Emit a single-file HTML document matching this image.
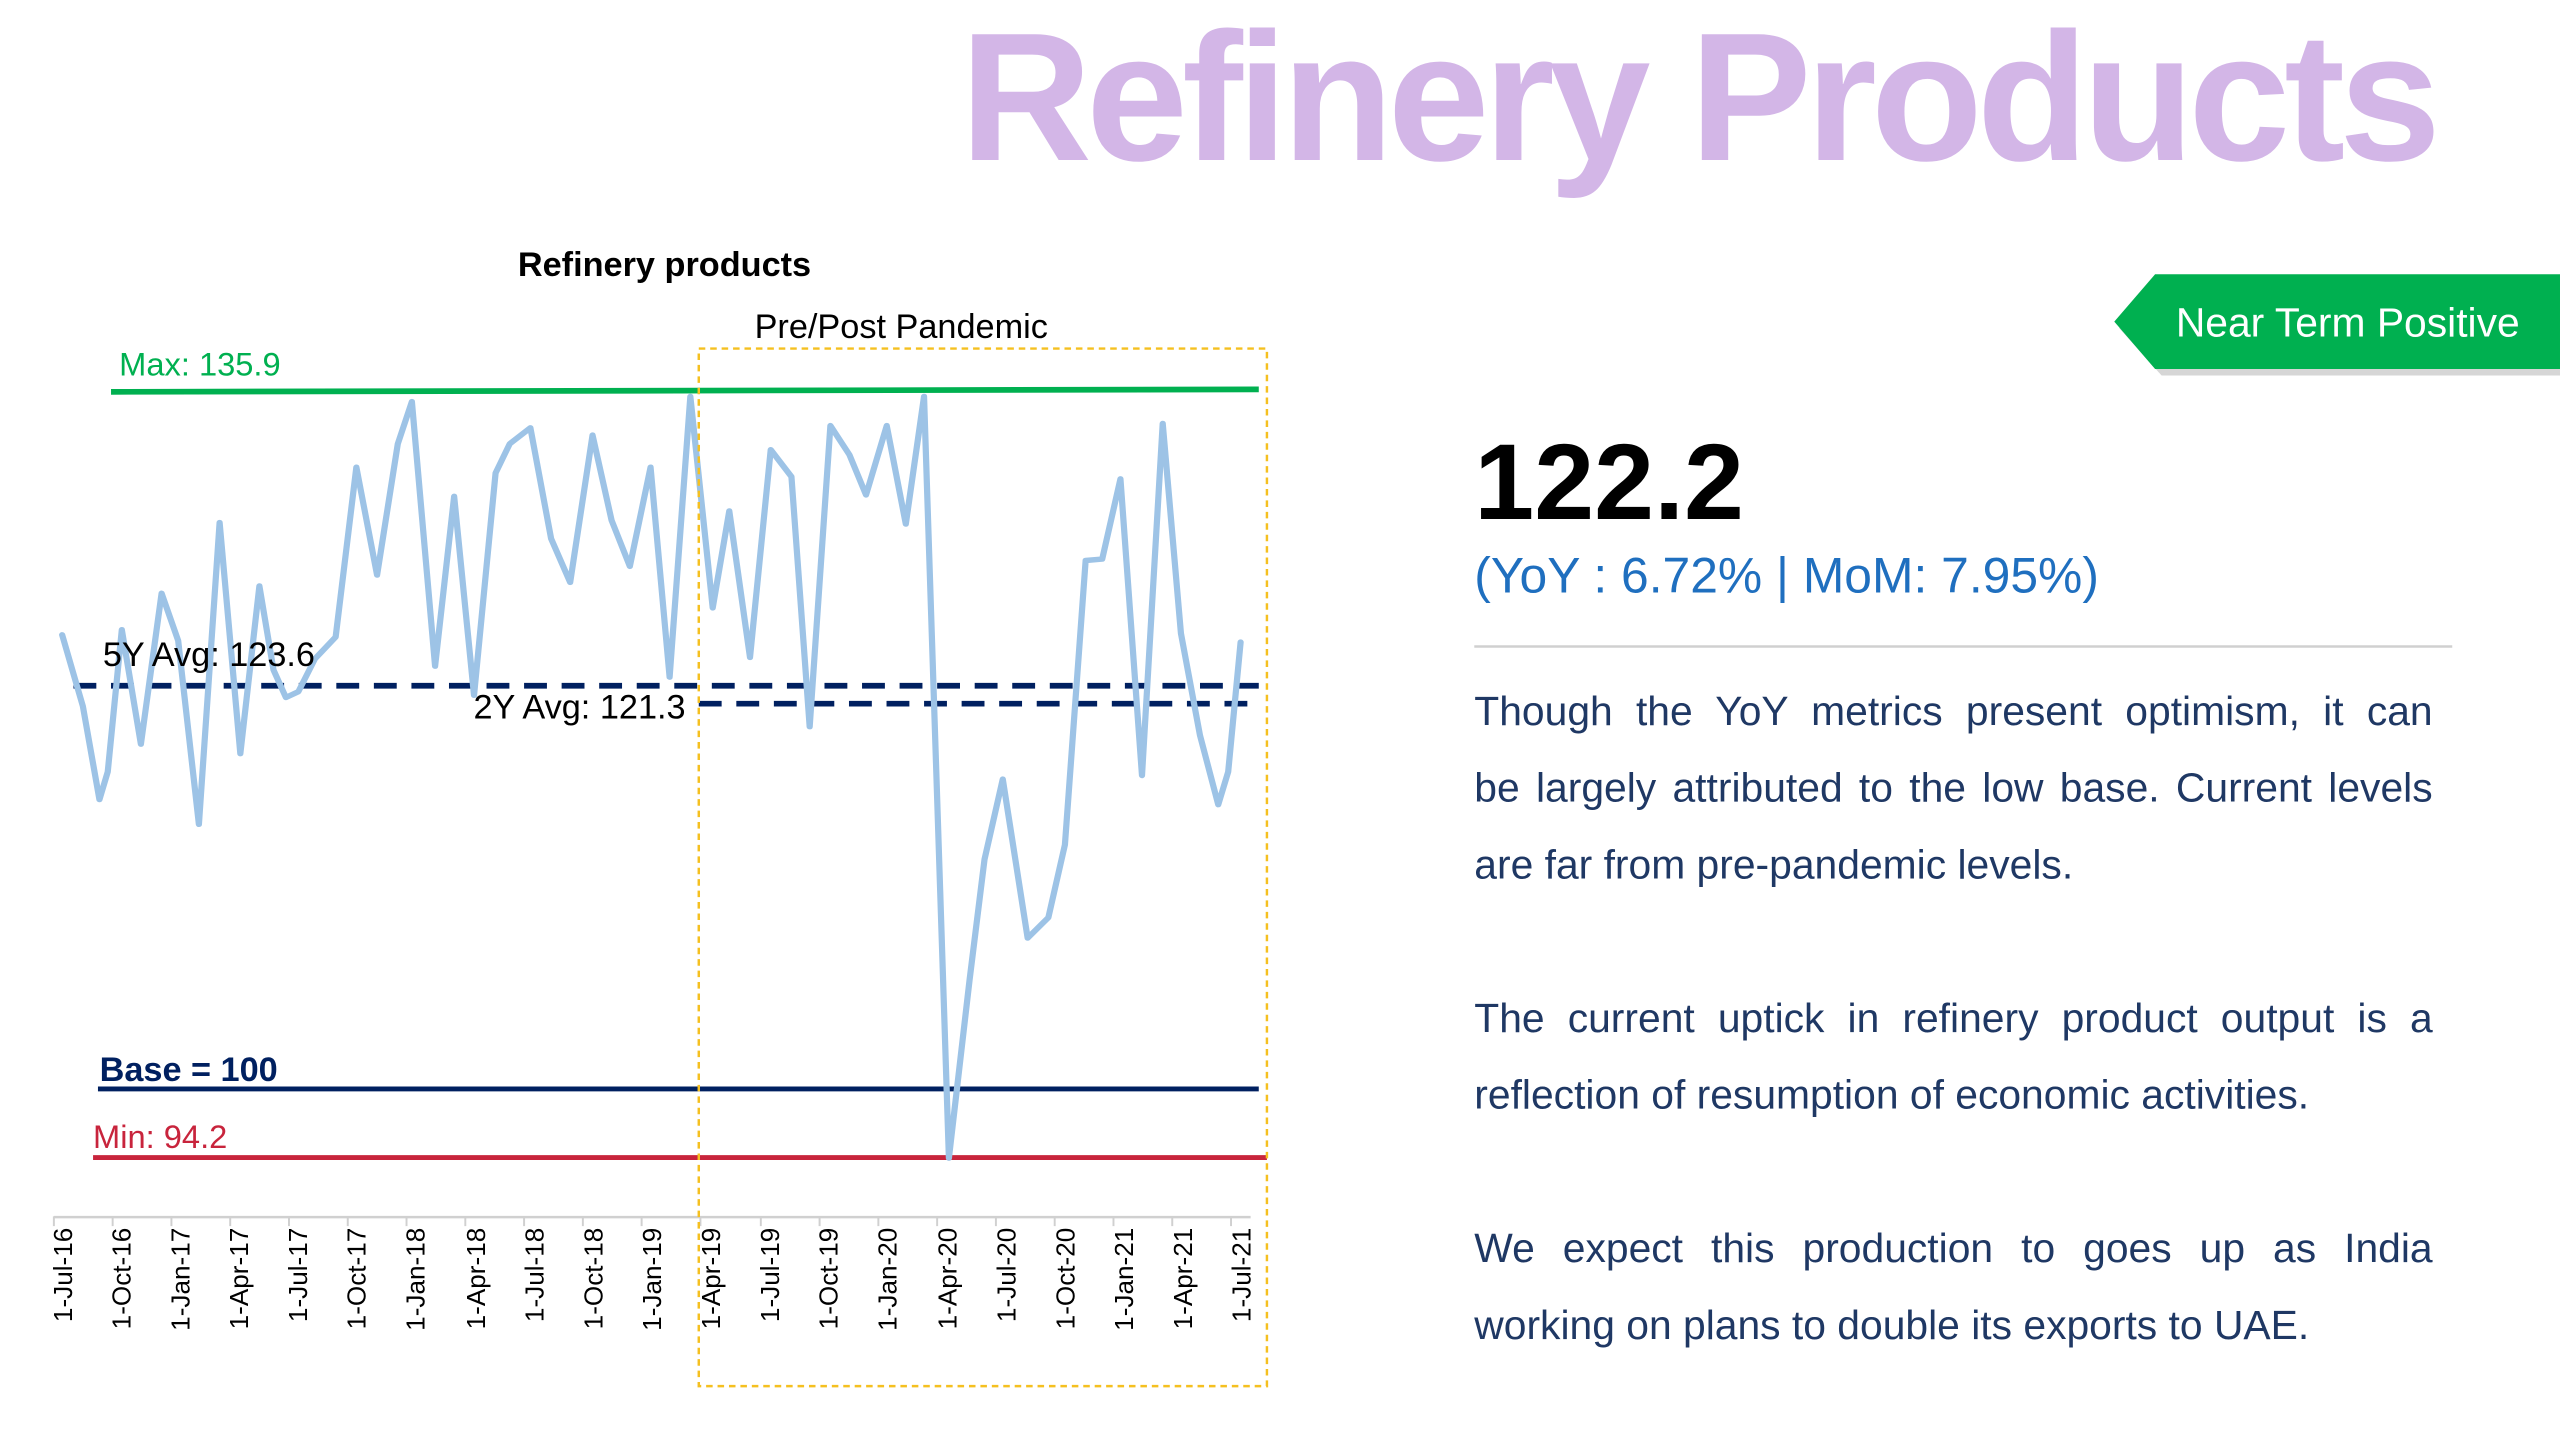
<!DOCTYPE html>
<html><head><meta charset="utf-8"><style>
html,body{margin:0;padding:0;background:#fff;overflow:hidden}
body{width:2560px;height:1440px}
#w{position:absolute;left:0;top:0;width:1568px;height:882px;transform:scale(1.63265);transform-origin:0 0;font-family:"Liberation Sans",sans-serif}
.a{position:absolute;white-space:nowrap}
.p{position:absolute;left:903px;width:587px;font-size:25px;color:#1f3864;line-height:47px}
.p div{text-align:justify;text-align-last:justify;white-space:nowrap}
.p div.l{text-align-last:left}
</style></head><body><div id="w">
<div class="a" style="left:588px;top:0px;font-size:112px;font-weight:bold;color:#d3b6e7;letter-spacing:-3.6px;line-height:120px">Refinery Products</div>
<svg style="position:absolute;left:0;top:0" width="1568" height="882" viewBox="0 0 1568 882">
<text x="407" y="169" font-size="21" font-weight="bold" text-anchor="middle" font-family="Liberation Sans">Refinery products</text>
<text x="552" y="207" font-size="21" text-anchor="middle" font-family="Liberation Sans">Pre/Post Pandemic</text>
<line x1="68" y1="240" x2="771" y2="238.5" stroke="#00b050" stroke-width="3.5"/>
<text x="73" y="230" font-size="20" fill="#00b050" font-family="Liberation Sans">Max: 135.9</text>
<line x1="45" y1="420" x2="771" y2="420" stroke="#002060" stroke-width="3.5" stroke-dasharray="14,9"/>
<line x1="428" y1="431" x2="771" y2="431" stroke="#002060" stroke-width="3.5" stroke-dasharray="14,9"/>
<line x1="60" y1="667" x2="771" y2="667" stroke="#002060" stroke-width="3"/>
<line x1="57" y1="709" x2="776" y2="709" stroke="#c8243c" stroke-width="3"/>
<g transform="translate(0,182.6) scale(0.5076,0.4464)">
<polyline fill="none" stroke="#9dc3e6" stroke-width="7.5" stroke-linejoin="round" stroke-linecap="round" points="75,462 100,560 120,688 130,650 147,455 170,612 195,405 215,470 240,722 265,308 290,625 313,395 330,510 345,548 360,540 380,495 405,465 430,232 455,380 480,200 497,142 525,505 548,272 572,545 598,240 615,200 640,178 665,330 688,390 715,188 738,305 760,368 785,232 808,520 833,135 860,425 880,292 905,493 930,208 955,245 977,588 1002,175 1025,215 1045,270 1070,175 1093,310 1115,135 1145,1180 1170,935 1188,770 1210,660 1240,878 1265,850 1285,750 1310,360 1330,358 1352,248 1378,655 1403,172 1425,460 1448,600 1470,695 1482,650 1497,472"/>
</g>
<text x="63" y="408" font-size="21" font-family="Liberation Sans">5Y Avg: 123.6</text>
<text x="290" y="440" font-size="21" font-family="Liberation Sans">2Y Avg: 121.3</text>
<text x="61" y="662" font-size="21" font-weight="bold" fill="#002060" font-family="Liberation Sans">Base = 100</text>
<text x="57" y="703" font-size="20" fill="#c8243c" font-family="Liberation Sans">Min: 94.2</text>
<line x1="33" y1="745.5" x2="766" y2="745.5" stroke="#d0d0d0" stroke-width="1.5"/>
<g font-size="16" font-family="Liberation Sans" text-anchor="end">
<text transform="translate(44,752) rotate(-90)">1-Jul-16</text>
<text transform="translate(80,752) rotate(-90)">1-Oct-16</text>
<text transform="translate(116,752) rotate(-90)">1-Jan-17</text>
<text transform="translate(152,752) rotate(-90)">1-Apr-17</text>
<text transform="translate(188,752) rotate(-90)">1-Jul-17</text>
<text transform="translate(224,752) rotate(-90)">1-Oct-17</text>
<text transform="translate(260,752) rotate(-90)">1-Jan-18</text>
<text transform="translate(297,752) rotate(-90)">1-Apr-18</text>
<text transform="translate(333,752) rotate(-90)">1-Jul-18</text>
<text transform="translate(369,752) rotate(-90)">1-Oct-18</text>
<text transform="translate(405,752) rotate(-90)">1-Jan-19</text>
<text transform="translate(441,752) rotate(-90)">1-Apr-19</text>
<text transform="translate(477,752) rotate(-90)">1-Jul-19</text>
<text transform="translate(513,752) rotate(-90)">1-Oct-19</text>
<text transform="translate(549,752) rotate(-90)">1-Jan-20</text>
<text transform="translate(586,752) rotate(-90)">1-Apr-20</text>
<text transform="translate(622,752) rotate(-90)">1-Jul-20</text>
<text transform="translate(658,752) rotate(-90)">1-Oct-20</text>
<text transform="translate(694,752) rotate(-90)">1-Jan-21</text>
<text transform="translate(730,752) rotate(-90)">1-Apr-21</text>
<text transform="translate(766,752) rotate(-90)">1-Jul-21</text>
</g>
<g stroke="#d0d0d0" stroke-width="1.2">
<line x1="33" y1="745" x2="33" y2="751"/><line x1="69" y1="745" x2="69" y2="751"/><line x1="105" y1="745" x2="105" y2="751"/><line x1="141" y1="745" x2="141" y2="751"/><line x1="177" y1="745" x2="177" y2="751"/><line x1="213" y1="745" x2="213" y2="751"/><line x1="249" y1="745" x2="249" y2="751"/><line x1="285" y1="745" x2="285" y2="751"/><line x1="321" y1="745" x2="321" y2="751"/><line x1="357" y1="745" x2="357" y2="751"/><line x1="393" y1="745" x2="393" y2="751"/><line x1="429" y1="745" x2="429" y2="751"/><line x1="466" y1="745" x2="466" y2="751"/><line x1="502" y1="745" x2="502" y2="751"/><line x1="538" y1="745" x2="538" y2="751"/><line x1="574" y1="745" x2="574" y2="751"/><line x1="610" y1="745" x2="610" y2="751"/><line x1="646" y1="745" x2="646" y2="751"/><line x1="682" y1="745" x2="682" y2="751"/><line x1="718" y1="745" x2="718" y2="751"/><line x1="754" y1="745" x2="754" y2="751"/>
</g>
<rect x="428" y="213.5" width="348" height="635.5" fill="none" stroke="#f5c020" stroke-width="1.5" stroke-dasharray="4,3"/>
<polygon points="1298,201 1324,171 1568,171 1568,230 1324,230" fill="#bbb" opacity="0.6"/>
<polygon points="1295,197 1320,168 1568,168 1568,226 1320,226" fill="#00b050"/>
<text x="1438" y="206" font-size="25" fill="#fff" text-anchor="middle" font-family="Liberation Sans">Near Term Positive</text>
<line x1="903" y1="396" x2="1502" y2="396" stroke="#d0d0d0" stroke-width="1.5"/>
</svg>
<div class="a" style="left:903px;top:257px;font-size:66px;font-weight:bold;color:#000;line-height:76px">122.2</div>
<div class="a" style="left:903px;top:333px;font-size:30.5px;color:#1f6fbf;line-height:40px">(YoY : 6.72% | MoM: 7.95%)</div>
<div class="p" style="top:413px"><div>Though the YoY metrics present optimism, it can</div><div>be largely attributed to the low base. Current levels</div><div class="l">are far from pre-pandemic levels.</div></div>
<div class="p" style="top:601px"><div>The current uptick in refinery product output is a</div><div class="l">reflection of resumption of economic activities.</div></div>
<div class="p" style="top:742px"><div>We expect this production to goes up as India</div><div class="l">working on plans to double its exports to UAE.</div></div>
</div></body></html>
